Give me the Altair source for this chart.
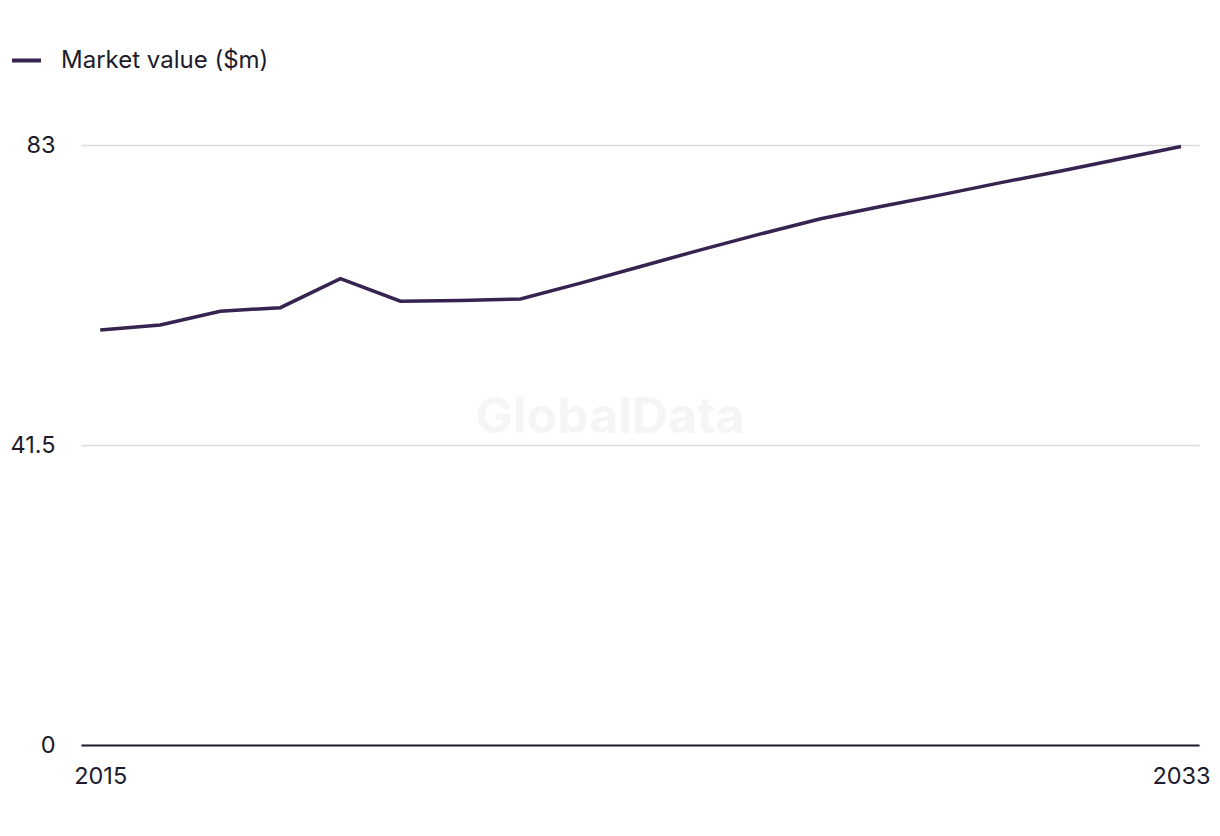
import altair as alt
import pandas as pd

years = list(range(2015, 2034))
values = [57.4, 58.1, 60.0, 60.5, 64.5, 61.4, 61.5, 61.7, 63.9, 66.2, 68.5, 70.7,
          72.8, 74.5, 76.1, 77.8, 79.4, 81.1, 82.8]
series = "Market value ($m)"
y_ticks = [0, 41.5, 83]
x_ticks = [2015, 2033]

df = pd.DataFrame({"year": years, "value": values, "series": [series] * len(years)})

FONT = "Inter"
TXT = "#1c1c2c"
LINE = "#36234f"

base = alt.Chart(df)

line = base.mark_line(strokeWidth=3.5, color=LINE).encode(
    x=alt.X("year:Q",
            scale=alt.Scale(domain=[2014.68, 2033.3], nice=False, zero=False),
            axis=alt.Axis(values=x_ticks, format="d", title=None, grid=False,
                          ticks=False, domain=True, domainColor=TXT, domainWidth=2,
                          labelPadding=19, labelFontSize=23.5, labelColor=TXT,
                          labelFont=FONT, labelFlush=False)),
    y=alt.Y("value:Q",
            scale=alt.Scale(domain=[0, 83], nice=False),
            axis=alt.Axis(values=y_ticks, title=None, grid=True, gridColor="#dcdcdc",
                          gridWidth=1.5, ticks=False, domain=False, labelPadding=26,
                          labelFontSize=23.5, labelColor=TXT, labelFont=FONT,
                          labelExpr="datum.value == 0 ? '0' : datum.value == 83 ? '83' : '41.5'")),
    color=alt.Color("series:N", scale=alt.Scale(range=[LINE]),
                    legend=alt.Legend(orient="none", legendX=-71, legendY=-101, title=None,
                                      symbolType="stroke", symbolSize=841,
                                      symbolStrokeWidth=4, labelFontSize=24,
                                      labelColor=TXT, labelFont=FONT, labelOffset=18,
                                      labelLimit=0, padding=0)),
)

wm = alt.Chart(pd.DataFrame({"t": ["GlobalData"]})).mark_text(
    fontSize=50, fontWeight="bold", color="#f5f5f5", font=FONT
).encode(x=alt.value(529), y=alt.value(273), text="t:N")

chart = alt.layer(wm, line).properties(
    width=1118, height=600,
    autosize=alt.AutoSizeParams(type="none"),
    padding={"left": 81, "top": 145, "right": 21, "bottom": 91},
).configure_view(stroke=None)

chart.save("out.html", embed_options={"renderer": "svg", "actions": False})
